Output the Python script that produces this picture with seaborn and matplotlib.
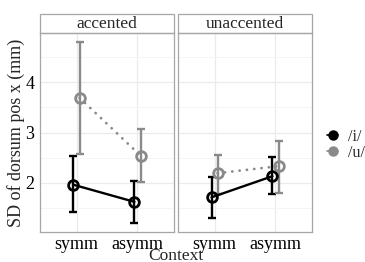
import numpy as np
import pandas as pd
import matplotlib
matplotlib.use("Agg")
import matplotlib.pyplot as plt
import seaborn as sns
from matplotlib.lines import Line2D
from matplotlib.patches import Rectangle

# Values
contexts = ["symm", "asymm"]
vowels = ["/i/", "/u/"]
panels = ["accented", "unaccented"]

acc_i_mean = [1.96, 1.62]
acc_i_lo = [1.41, 1.19]
acc_i_hi = [2.53, 2.04]
acc_u_mean = [3.69, 2.54]
acc_u_lo = [2.57, 2.02]
acc_u_hi = [4.81, 3.07]

una_i_mean = [1.71, 2.13]
una_i_lo = [1.30, 1.77]
una_i_hi = [2.12, 2.51]
una_u_mean = [2.19, 2.33]
una_u_lo = [1.78, 1.80]
una_u_hi = [2.56, 2.83]

rows = []
for panel, vals in [("accented", [(acc_i_mean, acc_i_lo, acc_i_hi), (acc_u_mean, acc_u_lo, acc_u_hi)]),
                    ("unaccented", [(una_i_mean, una_i_lo, una_i_hi), (una_u_mean, una_u_lo, una_u_hi)])]:
    for v, (m, lo, hi) in zip(vowels, vals):
        for c, mm, l, h in zip(contexts, m, lo, hi):
            rows.append({"panel": panel, "vowel": v, "context": c, "sd": mm, "lo": l, "hi": h})
df = pd.DataFrame(rows)

sns.set_theme(style="white")
plt.rcParams["font.family"] = ["Liberation Serif", "DejaVu Serif"]

colors = {"/i/": "black", "/u/": "#8a8a8a"}
styles = {"/i/": "-", "/u/": ":"}
dodge = 0.1
offsets = {"/i/": -dodge / 2, "/u/": dodge / 2}

fig = plt.figure(figsize=(3.65, 2.62), dpi=100)
W, H = 365, 262
bottom, top = 232, 33
lefts = [(40, 174), (178, 312)]
border = "#a6a6a6"

for i, (panel, (x0, x1)) in enumerate(zip(panels, lefts)):
    ax = fig.add_axes([x0 / W, 1 - bottom / H, (x1 - x0) / W, (bottom - top) / H])
    sub = df[df["panel"] == panel]
    sns.pointplot(data=sub, x="context", y="sd", hue="vowel", order=contexts,
                  hue_order=vowels, palette=colors, markers="o",
                  linestyles=[styles[v] for v in vowels], dodge=dodge,
                  errorbar=None, ax=ax, legend=False, linewidth=1.7,
                  markersize=7, markeredgewidth=2)
    for line in ax.lines:
        line.set_markerfacecolor("none")
        if line.get_linestyle() == ":":
            line.set_linewidth(2)
            line.set_linestyle((0, (0.05, 2.6)))
            line.set_dash_capstyle("round")
    for v in vowels:
        s = sub[sub["vowel"] == v].set_index("context").loc[contexts]
        xs = np.arange(len(contexts)) + offsets[v]
        ax.errorbar(xs, s["sd"], yerr=[s["sd"] - s["lo"], s["hi"] - s["sd"]],
                    fmt="none", ecolor=colors[v], elinewidth=1.7, capsize=2.8,
                    capthick=1.7, zorder=1)
    ax.set_xlim(-0.6, 1.6)
    ax.set_ylim(1.02, 4.98)
    ax.set_yticks([2, 3, 4])
    ax.set_yticks([1.5, 2.5, 3.5, 4.5], minor=True)
    ax.grid(True, which="major", color="#ebebeb", linewidth=0.9)
    ax.grid(True, which="minor", axis="y", color="#f4f4f4", linewidth=0.6)
    ax.set_axisbelow(True)
    for sp in ax.spines.values():
        sp.set_color(border)
        sp.set_linewidth(0.9)
    ax.tick_params(axis="both", which="major", length=3, width=0.8, color=border,
                   labelsize=13, pad=1, labelcolor="black")
    ax.tick_params(axis="x", which="major", pad=0)
    ax.tick_params(axis="both", which="minor", length=0)
    ax.set_xlabel("")
    ax.set_ylabel("")
    if i > 0:
        ax.tick_params(axis="y", labelleft=False, length=0)
    # strip
    sh = 19 / (bottom - top)
    ax.add_patch(Rectangle((0, 1), 1, sh, transform=ax.transAxes, clip_on=False,
                           facecolor="white", edgecolor=border, linewidth=0.9))
    ax.text(0.5, 1 + sh / 2, panel, transform=ax.transAxes, ha="center",
            va="center", fontsize=12.5)

fig.text(16 / W, 1 - 133 / H, "SD of dorsum pos x (mm)", rotation=90,
         ha="center", va="center", fontsize=13)
fig.text(176 / W, 1 - 248 / H, "Context", ha="center", va="top", fontsize=12.5)

handles = [Line2D([0], [0], color=colors[v], marker="o", markersize=5.5,
                  markeredgewidth=2, markerfacecolor=colors[v], linestyle="-",
                  linewidth=1.2) for v in vowels]
fig.legend(handles, vowels, loc="center left", bbox_to_anchor=(319 / W, 1 - 145 / H),
           frameon=False, fontsize=11.5, handlelength=0.7, handletextpad=0.6,
           labelspacing=0.0, borderpad=0)

fig.savefig("out.png", dpi=100)
